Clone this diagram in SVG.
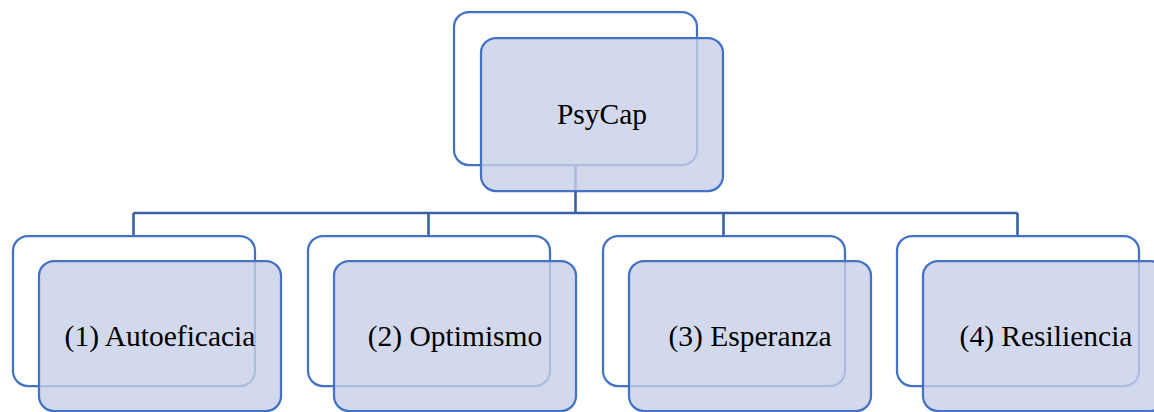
<svg xmlns="http://www.w3.org/2000/svg" width="1154" height="412" viewBox="0 0 1154 412">
<style>
.bg{fill:#fff}
.back{fill:#fff;stroke:#4472C4;stroke-width:2.25}
.front{fill:#C8D0E8;fill-opacity:0.8;stroke:#4472C4;stroke-width:2.25}
.conn{fill:none;stroke:#3A5FA6;stroke-width:2.6}
.lbl{font-family:'Liberation Serif','Times New Roman','DejaVu Serif',serif;font-size:29.5px;fill:#000;text-anchor:middle}
</style>
<rect class="bg" x="0" y="0" width="1154" height="412"/>
<g id="connectors">
<path class="conn" d="M575.5 165V213M133.5 213H1017.5M133.5 213V236M428.5 213V236M723.5 213V236M1017.5 213V236"/>
</g>
<g id="node-psycap">
<rect class="back" x="454" y="12" width="243" height="153" rx="15"/>
<rect class="front" x="481" y="38" width="242" height="153" rx="15"/>
<text class="lbl" x="602" y="124" font-size="31">PsyCap</text>
</g>
<g id="node-autoeficacia">
<rect class="back" x="13" y="236" width="242" height="150" rx="15"/>
<rect class="front" x="39" y="261" width="242" height="150" rx="15"/>
<text class="lbl" x="160" y="346">(1) Autoeficacia</text>
</g>
<g id="node-optimismo">
<rect class="back" x="308" y="236" width="242" height="150" rx="15"/>
<rect class="front" x="334" y="261" width="242" height="150" rx="15"/>
<text class="lbl" x="455" y="346">(2) Optimismo</text>
</g>
<g id="node-esperanza">
<rect class="back" x="603" y="236" width="242" height="150" rx="15"/>
<rect class="front" x="629" y="261" width="242" height="150" rx="15"/>
<text class="lbl" x="750" y="346">(3) Esperanza</text>
</g>
<g id="node-resiliencia">
<rect class="back" x="897" y="236" width="242" height="150" rx="15"/>
<rect class="front" x="923" y="261" width="242" height="150" rx="15"/>
<text class="lbl" x="1046" y="346">(4) Resiliencia</text>
</g>
</svg>
